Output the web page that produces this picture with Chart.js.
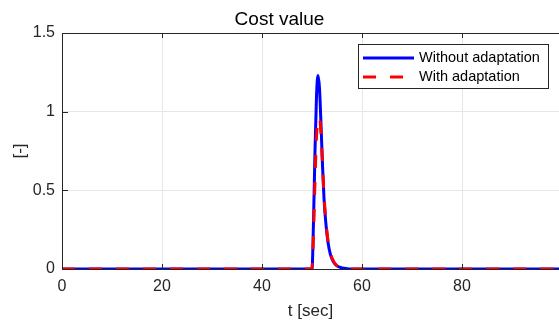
<!DOCTYPE html>
<html>
<head>
<meta charset="utf-8">
<script src="https://cdn.jsdelivr.net/npm/chart.js@4/dist/chart.umd.min.js"></script>
<style>
  html, body { margin: 0; padding: 0; background: #fff; }
  canvas { display: block; }
</style>
</head>
<body>
<canvas id="costChart" width="559" height="322"></canvas>
<script>
const timeSec = [0, 50.0, 50.3, 50.6, 50.9, 51.2, 51.5, 51.8, 52.1, 52.4, 52.8, 53.2, 53.7, 54.3, 55.0, 56.0, 57.0, 58.0, 100];
const costWithout = [0, 0, 0.30, 0.75, 1.10, 1.23, 1.15, 0.92, 0.66, 0.45, 0.28, 0.17, 0.09, 0.045, 0.02, 0.007, 0.002, 0, 0];
const costWith = [0, 0, 0.22, 0.56, 0.84, 0.95, 0.96, 0.86, 0.67, 0.47, 0.30, 0.18, 0.10, 0.05, 0.02, 0.007, 0.002, 0, 0];
const xTicks = [0, 20, 40, 60, 80];
const yTicks = [0, 0.5, 1, 1.5];
const seriesLabels = ['Without adaptation', 'With adaptation'];

const FONT = '"Liberation Sans", Arial, Helvetica, sans-serif';
const TEXT = '#262626';

function toPoints(values) {
  return timeSec.map((t, i) => ({ x: t, y: values[i] }));
}

// inward tick marks, top border and the boxed legend, MATLAB style
const axesExtras = {
  id: 'axesExtras',
  afterDraw(chart) {
    const { ctx, chartArea: a, scales } = chart;
    ctx.save();
    ctx.strokeStyle = '#262626';
    ctx.lineWidth = 1;
    ctx.beginPath();
    ctx.moveTo(a.left, a.top + 0.5);
    ctx.lineTo(a.right, a.top + 0.5);
    for (const v of xTicks) {
      const px = Math.round(scales.x.getPixelForValue(v)) + 0.5;
      ctx.moveTo(px, a.bottom);
      ctx.lineTo(px, a.bottom - 5);
      ctx.moveTo(px, a.top);
      ctx.lineTo(px, a.top + 5);
    }
    for (const v of yTicks) {
      const py = Math.round(scales.y.getPixelForValue(v)) + 0.5;
      ctx.moveTo(a.left, py);
      ctx.lineTo(a.left + 6, py);
    }
    ctx.stroke();

    // legend
    const box = { x: 358.5, y: 44.5, w: 190, h: 44 };
    ctx.fillStyle = '#fff';
    ctx.fillRect(box.x, box.y, box.w, box.h);
    ctx.strokeStyle = '#262626';
    ctx.strokeRect(box.x, box.y, box.w, box.h);

    const rows = [
      { label: seriesLabels[0], color: '#0000ff', dash: [], y: 58 },
      { label: seriesLabels[1], color: '#ff0000', dash: [13, 14], y: 77 },
    ];
    ctx.font = '14.5px ' + FONT;
    ctx.textBaseline = 'middle';
    ctx.textAlign = 'left';
    for (const r of rows) {
      ctx.beginPath();
      ctx.setLineDash(r.dash);
      ctx.strokeStyle = r.color;
      ctx.lineWidth = 3;
      ctx.moveTo(363, r.y);
      ctx.lineTo(414, r.y);
      ctx.stroke();
      ctx.setLineDash([]);
      ctx.fillStyle = '#000';
      ctx.fillText(r.label, 419, r.y);
    }
    ctx.restore();
  },
};

new Chart(document.getElementById('costChart'), {
  type: 'scatter',
  data: {
    datasets: [
      {
        label: seriesLabels[1],
        data: toPoints(costWith),
        showLine: true,
        borderColor: '#ff0000',
        borderWidth: 3,
        borderDash: [13, 14],
        pointRadius: 0,
        cubicInterpolationMode: 'monotone',
      },
      {
        label: seriesLabels[0],
        data: toPoints(costWithout),
        showLine: true,
        borderColor: '#0000ff',
        borderWidth: 3,
        pointRadius: 0,
        cubicInterpolationMode: 'monotone',
      },
    ],
  },
  options: {
    responsive: false,
    animation: false,
    layout: { padding: { left: 0, right: 0, top: 0, bottom: 0 } },
    plugins: {
      legend: { display: false },
      tooltip: { enabled: false },
      title: {
        display: true,
        text: 'Cost value',
        color: '#000',
        font: { family: FONT, size: 19, weight: 'normal' },
        padding: { top: 8, bottom: 2.2 },
      },
    },
    scales: {
      x: {
        type: 'linear',
        min: 0,
        max: 99.4,
        afterBuildTicks: (scale) => { scale.ticks = xTicks.map((v) => ({ value: v })); },
        afterFit: (scale) => { scale.height = 53; },
        ticks: {
          color: TEXT,
          font: { family: FONT, size: 16 },
          padding: 8,
          maxRotation: 0,
          callback: (v) => String(v),
        },
        grid: { color: '#e6e6e6', drawTicks: false },
        border: { color: '#262626', width: 1 },
        title: {
          display: true,
          text: 't [sec]',
          color: TEXT,
          font: { family: FONT, size: 17 },
          padding: { top: 0, bottom: 0 },
        },
      },
      y: {
        type: 'linear',
        min: 0,
        max: 1.5,
        afterBuildTicks: (scale) => { scale.ticks = yTicks.map((v) => ({ value: v })); },
        afterFit: (scale) => { scale.width = 62; },
        ticks: {
          color: TEXT,
          font: { family: FONT, size: 16 },
          padding: 7,
          callback: (v) => String(v),
        },
        grid: { color: '#e6e6e6', drawTicks: false },
        border: { color: '#262626', width: 1 },
        title: {
          display: true,
          text: '[-]',
          color: TEXT,
          font: { family: FONT, size: 17 },
          padding: { top: 10, bottom: 0 },
        },
      },
    },
  },
  plugins: [axesExtras],
});
</script>
</body>
</html>
